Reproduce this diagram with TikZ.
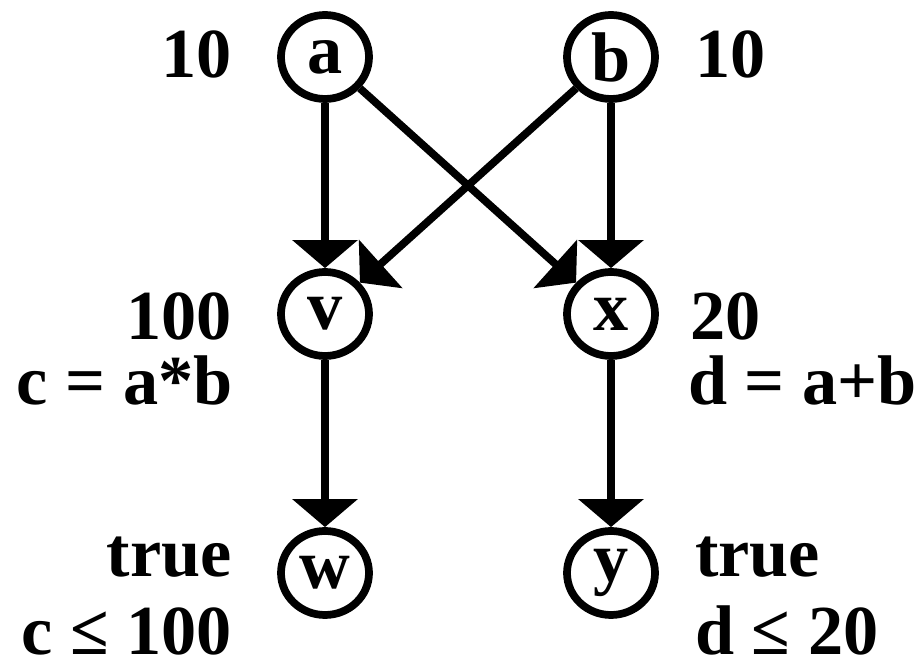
\documentclass[tikz,border=0pt]{standalone}
\usepackage{fontspec}
\setmainfont{Liberation Serif}
\usepackage{tikz}
\usetikzlibrary{arrows.meta, shapes, positioning}
\usepackage{xcolor}

\begin{document}
\begin{tikzpicture}[
  var/.style={draw, ellipse, minimum width=2.2cm, minimum height=2.1cm, inner sep=0pt, line width=5.5pt},
  lbl/.style={inner sep=0pt, text depth=0pt},
  dep/.style={-{Triangle[length=0.7cm, width=1.6cm]}, line width=5.5pt},
  font=\fontsize{50}{60}\selectfont\bfseries]
  \useasboundingbox (0,0) rectangle (23,16.775);
  % dependency graph
  \node[var] (a) at (8.125,15.35) {a};
  \node[var] (b) at (15.275,15.35) {b};
  \node[var] (v) at (8.125,8.925) {v};
  \node[var] (x) at (15.275,8.925) {x};
  \node[var] (w) at (8.125,2.45) {w};
  \node[var] (y) at (15.275,2.45) {y};

  % values and constraints
  \node[lbl, anchor=base east] (la) at (5.8,14.825) {10};
  \node[lbl, anchor=base west] (lb) at (17.375,14.825) {10};
  \node[lbl, anchor=base east] (lv) at (5.8,8.275) {100};
  \node[lbl, anchor=base east] (cv) at (5.825,6.65) {c = a*b};
  \node[lbl, anchor=base west] (lx) at (17.25,8.275) {20};
  \node[lbl, anchor=base west] (cx) at (17.2,6.65) {d = a+b};
  \node[lbl, anchor=base east] (lw) at (5.8,2.35) {true};
  \node[lbl, anchor=base east] (cw) at (5.8,0.4) {c ≤ 100};
  \node[lbl, anchor=base west] (ly) at (17.375,2.35) {true};
  \node[lbl, anchor=base west] (cy) at (17.375,0.4) {d ≤ 20};

  \draw[dep] (a) -- (v);
  \draw[dep] (a) -- (x);
  \draw[dep] (b) -- (v);
  \draw[dep] (b) -- (x);
  \draw[dep] (v) -- (w);
  \draw[dep] (x) -- (y);
\end{tikzpicture}
\end{document}
